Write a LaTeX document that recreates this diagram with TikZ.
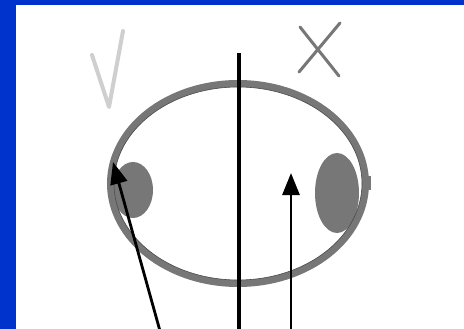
\documentclass[tikz,border=0pt]{standalone}
\usetikzlibrary{arrows.meta}
\definecolor{frameblue}{HTML}{0033CC}
\definecolor{ringgray}{HTML}{777777}
\definecolor{lightmark}{HTML}{CFCFCF}
\begin{document}
\begin{tikzpicture}[x=1pt,y=-1pt,
  arrowline/.style={line width=2.8pt,-{Triangle[length=22pt,width=17pt]}},
  blob/.style={fill=ringgray}]
\fill[frameblue] (0,0) rectangle (464,329);
\fill[white] (16,5) rectangle (464,329);
\useasboundingbox (0,0) rectangle (464,329);
% blobs
\fill[blob] (133,190) ellipse [x radius=20, y radius=28];
\fill[blob] (337,193) ellipse [x radius=22, y radius=40];
\fill[ringgray] (366,176) rectangle (371,190);
% ring
\coordinate (c) at (238,183.5);
\draw[ringgray, line width=7pt] (c) ellipse [x radius=127.5, y radius=100];
\draw[black!70, line width=0.6pt] (c) ellipse [x radius=124, y radius=96.5];
% marks
\draw[lightmark, line width=4pt, line cap=round, line join=round] (92,55) -- (109,107) -- (123,31);
\draw[ringgray, line width=3pt, line cap=round] (299,72) -- (340,23);
\draw[ringgray, line width=3pt, line cap=round] (300,27) -- (339,76);
% lines
\coordinate (vtop) at (239,53);
\coordinate (vbot) at (239,329);
\draw[black, line width=4pt] (vtop) -- (vbot);
\coordinate (a1s) at (160,331);
\coordinate (a1e) at (113,162);
\draw[arrowline] (a1s) -- (a1e);
\coordinate (a2s) at (291,331);
\coordinate (a2e) at (291,173);
\draw[arrowline] (a2s) -- (a2e);
\end{tikzpicture}
\end{document}
